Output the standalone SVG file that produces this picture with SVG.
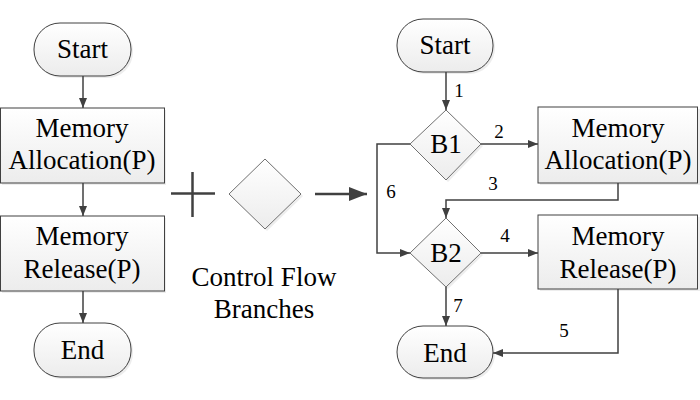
<svg xmlns="http://www.w3.org/2000/svg" width="700" height="400" viewBox="0 0 700 400">
<defs>
<linearGradient id="g" x1="0" y1="0" x2="0" y2="1">
<stop offset="0" stop-color="#ffffff"/>
<stop offset="1" stop-color="#ececec"/>
</linearGradient>
<marker id="ah" markerWidth="10" markerHeight="8" refX="10" refY="4" orient="auto" markerUnits="userSpaceOnUse">
<path d="M0,0 L10,4 L0,8 Z" fill="#404040"/>
</marker>
<marker id="big" markerWidth="18" markerHeight="14" refX="18" refY="7" orient="auto" markerUnits="userSpaceOnUse">
<path d="M0,0 L18,7 L0,14 Z" fill="#404040"/>
</marker>
</defs>
<style>
.sh{fill:#dcdcdc;stroke:none;opacity:0.5}
.n{fill:url(#g);stroke:#404040;stroke-width:1}
.d{fill:url(#g);stroke:#707070;stroke-width:1}
text{fill:#000;text-anchor:middle}
.t{font-size:27px}
.l{font-size:19px}
.c{fill:none;stroke:#404040;stroke-width:1.5}
</style>
<rect width="700" height="400" fill="#ffffff"/>

<g font-family="Liberation Serif, Times New Roman, serif">
<g id="L-start">
<rect class="sh" x="36" y="25" width="97" height="53" rx="26"/>
<rect class="n" x="34" y="23" width="97" height="53" rx="26"/>
<text class="t" x="82.5" y="58">Start</text>
</g>
<g id="L-alloc">
<rect class="sh" x="2" y="110" width="164" height="75"/>
<rect class="n" x="0.5" y="108" width="164" height="75"/>
<text class="t" x="82" y="137">Memory</text>
<text class="t" x="82" y="169">Allocation(P)</text>
</g>
<g id="L-release">
<rect class="sh" x="2" y="218" width="164" height="75"/>
<rect class="n" x="0.5" y="216" width="164" height="75"/>
<text class="t" x="82" y="245">Memory</text>
<text class="t" x="82" y="278">Release(P)</text>
</g>
<g id="L-end">
<rect class="sh" x="36" y="325" width="97" height="54" rx="26"/>
<rect class="n" x="34" y="323" width="97" height="54" rx="26"/>
<text class="t" x="82.5" y="359">End</text>
</g>

<g id="plus">
<line x1="171" y1="193.5" x2="215" y2="193.5" stroke="#404040" stroke-width="2.5"/>
<line x1="192.5" y1="172" x2="192.5" y2="217" stroke="#404040" stroke-width="2.5"/>
</g>
<g id="branch-diamond">
<path class="sh" d="M267,161 L303,196 L267,231 L231,196 Z"/>
<path class="d" d="M265,159 L301,194 L265,229 L229,194 Z"/>
<text class="t" x="264" y="286">Control Flow</text>
<text class="t" x="264" y="318">Branches</text>
</g>

<g id="R-start">
<rect class="sh" x="399" y="21" width="96" height="53" rx="26"/>
<rect class="n" x="397" y="19" width="96" height="53" rx="26"/>
<text class="t" x="445" y="54">Start</text>
</g>
<g id="R-B1">
<path class="sh" d="M448,112 L483,146 L448,182 L412,146 Z"/>
<path class="d" d="M446,110 L481,144 L446,180 L410,144 Z"/>
<text class="t" x="446" y="153">B1</text>
</g>
<g id="R-alloc">
<rect class="sh" x="540" y="109" width="160" height="76"/>
<rect class="n" x="538" y="107" width="159.5" height="76"/>
<text class="t" x="618" y="137">Memory</text>
<text class="t" x="618" y="169">Allocation(P)</text>
</g>
<g id="R-B2">
<path class="sh" d="M448,220 L483,255 L448,289 L412,255 Z"/>
<path class="d" d="M446,218 L481,253 L446,287 L410,253 Z"/>
<text class="t" x="446" y="262">B2</text>
</g>
<g id="R-release">
<rect class="sh" x="540" y="217" width="160" height="74"/>
<rect class="n" x="538" y="215" width="159.5" height="74"/>
<text class="t" x="618" y="245">Memory</text>
<text class="t" x="618" y="278">Release(P)</text>
</g>
<g id="R-end">
<rect class="sh" x="399" y="328" width="96" height="52" rx="26"/>
<rect class="n" x="397" y="326" width="96" height="52" rx="26"/>
<text class="t" x="445" y="362">End</text>
</g>

<g id="connectors">
<line class="c" x1="83" y1="76" x2="83" y2="108" marker-end="url(#ah)"/>
<line class="c" x1="83" y1="183" x2="83" y2="216" marker-end="url(#ah)"/>
<line class="c" x1="83" y1="291" x2="83" y2="323" marker-end="url(#ah)"/>
<line x1="315" y1="194" x2="367" y2="194" stroke="#404040" stroke-width="2.5" marker-end="url(#big)"/>
<line class="c" x1="446" y1="72" x2="446" y2="110" marker-end="url(#ah)"/>
<line class="c" x1="481" y1="144" x2="538" y2="144" marker-end="url(#ah)"/>
<polyline class="c" points="618,183 618,200 446,200 446,218" marker-end="url(#ah)"/>
<polyline class="c" points="410,144 377,144 377,253 410,253" marker-end="url(#ah)"/>
<line class="c" x1="481" y1="253" x2="538" y2="253" marker-end="url(#ah)"/>
<line class="c" x1="446" y1="287" x2="446" y2="326" marker-end="url(#ah)"/>
<polyline class="c" points="618,289 618,353 493,353" marker-end="url(#ah)"/>
<text class="l" x="459" y="97">1</text>
<text class="l" x="499" y="138">2</text>
<text class="l" x="493" y="190">3</text>
<text class="l" x="505" y="242">4</text>
<text class="l" x="564" y="337">5</text>
<text class="l" x="391" y="198">6</text>
<text class="l" x="458" y="312">7</text>
</g>
</g>
</svg>
